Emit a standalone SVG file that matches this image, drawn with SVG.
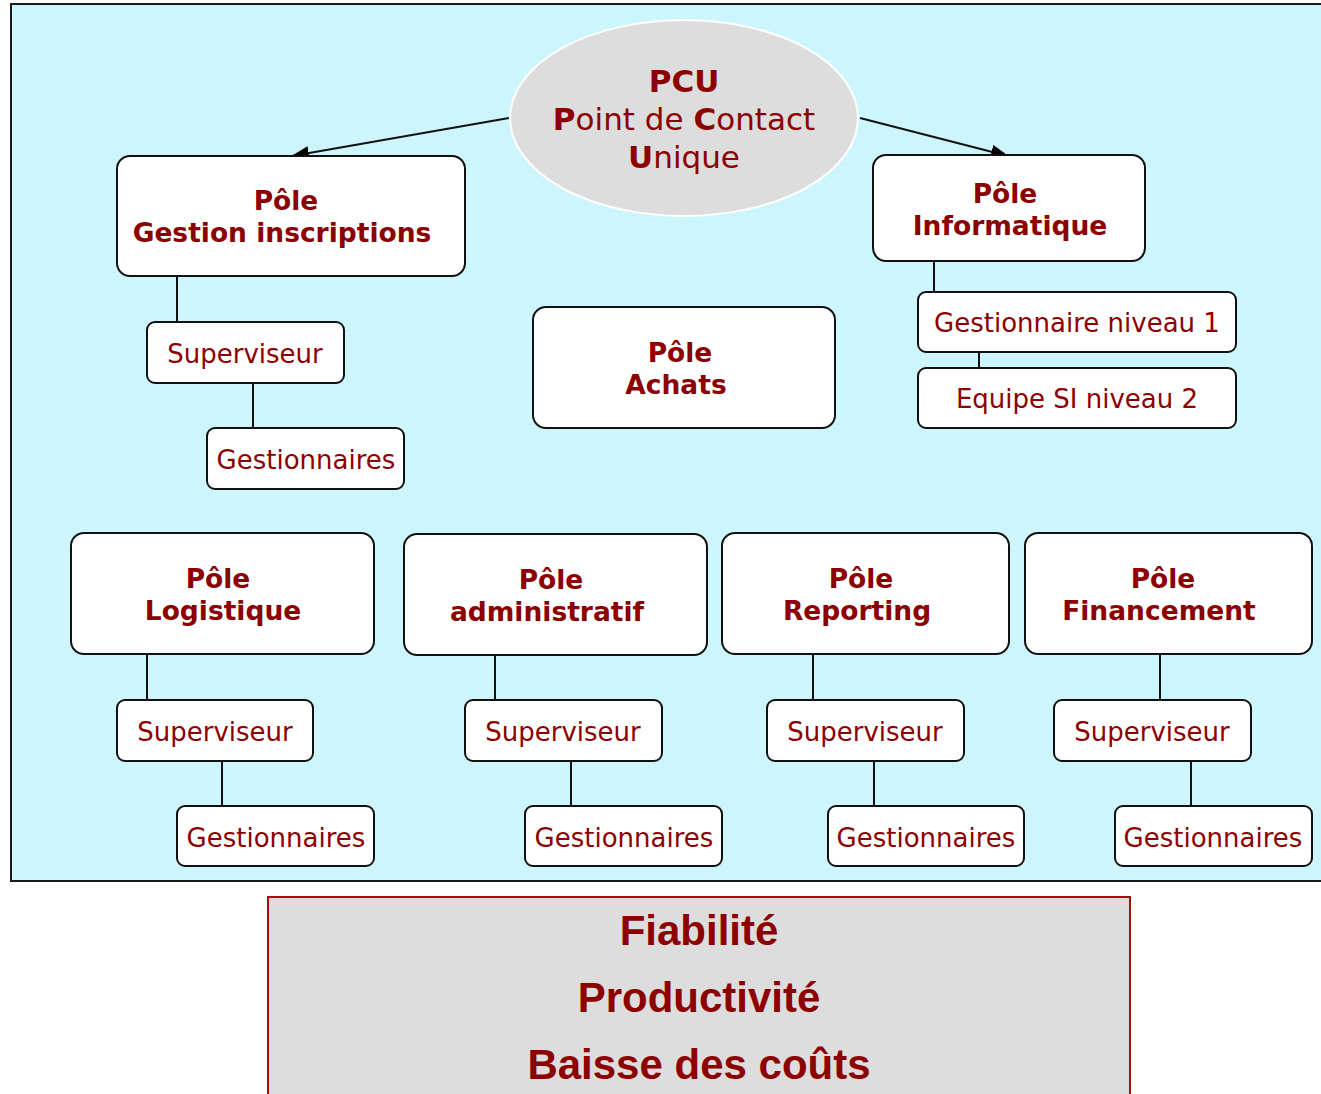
<svg xmlns="http://www.w3.org/2000/svg" width="1321" height="1094" viewBox="0 0 1321 1094">
<style>
.bg{fill:#ccf5fd;stroke:#1a1a1a;stroke-width:2}
.box{fill:#ffffff;stroke:#111;stroke-width:2}
.t{font-family:"DejaVu Sans",Verdana,sans-serif;fill:#8c0000;text-anchor:middle}
.b{font-weight:bold;font-size:26.5px}
.r{font-size:26px}
.c{stroke:#111;stroke-width:2;fill:none}
.big{font-family:"Liberation Sans",Arial,sans-serif;font-weight:bold;font-size:42px;fill:#8c0000;text-anchor:middle}
</style>
<defs>
<marker id="ah" viewBox="0 0 18 14" refX="17" refY="7" markerWidth="18" markerHeight="14" markerUnits="userSpaceOnUse" orient="auto">
<path d="M0,0 L18,7 L0,14 z" fill="#000"/>
</marker>
</defs>
<rect class="bg" x="11" y="4" width="1320" height="877"/>
<g id="connectors">
<line class="c" x1="509" y1="118" x2="292" y2="156" marker-end="url(#ah)"/>
<line class="c" x1="860" y1="118" x2="1008" y2="156" marker-end="url(#ah)"/>
<line class="c" x1="177" y1="276" x2="177" y2="322"/>
<line class="c" x1="253" y1="383" x2="253" y2="428"/>
<line class="c" x1="934" y1="261" x2="934" y2="292"/>
<line class="c" x1="979" y1="352" x2="979" y2="368"/>
<line class="c" x1="147" y1="654" x2="147" y2="700"/>
<line class="c" x1="222" y1="761" x2="222" y2="806"/>
<line class="c" x1="495" y1="655" x2="495" y2="700"/>
<line class="c" x1="571" y1="761" x2="571" y2="806"/>
<line class="c" x1="813" y1="654" x2="813" y2="700"/>
<line class="c" x1="874" y1="761" x2="874" y2="806"/>
<line class="c" x1="1160" y1="654" x2="1160" y2="700"/>
<line class="c" x1="1191" y1="761" x2="1191" y2="806"/>
</g>
<g id="pcu">
<ellipse cx="684" cy="118" rx="174" ry="98" fill="#dddddd" stroke="#ffffff" stroke-width="2"/>
<text class="t" x="684" y="92" font-size="31" font-weight="bold">PCU</text>
<text class="t" x="684" y="130" font-size="31"><tspan font-weight="bold">P</tspan>oint de <tspan font-weight="bold">C</tspan>ontact</text>
<text class="t" x="684" y="168" font-size="31"><tspan font-weight="bold">U</tspan>nique</text>
</g>
<g id="pole-gestion">
<rect class="box" x="117" y="156" width="348" height="120" rx="13"/>
<text class="t b" x="286" y="210">Pôle</text>
<text class="t b" x="282" y="242">Gestion inscriptions</text>
</g>
<g id="gi-superviseur">
<rect class="box" x="147" y="322" width="197" height="61" rx="8"/>
<text class="t r" x="245" y="363">Superviseur</text>
</g>
<g id="gi-gestionnaires">
<rect class="box" x="207" y="428" width="197" height="61" rx="8"/>
<text class="t r" x="306" y="469">Gestionnaires</text>
</g>
<g id="pole-achats">
<rect class="box" x="533" y="307" width="302" height="121" rx="13"/>
<text class="t b" x="680" y="362">Pôle</text>
<text class="t b" x="676" y="394">Achats</text>
</g>
<g id="pole-informatique">
<rect class="box" x="873" y="155" width="272" height="106" rx="13"/>
<text class="t b" x="1005" y="203">Pôle</text>
<text class="t b" x="1010" y="235">Informatique</text>
</g>
<g id="gest-niveau1">
<rect class="box" x="918" y="292" width="318" height="60" rx="8"/>
<text class="t r" x="1077" y="332">Gestionnaire niveau 1</text>
</g>
<g id="equipe-si">
<rect class="box" x="918" y="368" width="318" height="60" rx="8"/>
<text class="t r" x="1077" y="408">Equipe SI niveau 2</text>
</g>
<g id="pole-logistique">
<rect class="box" x="71" y="533" width="303" height="121" rx="13"/>
<text class="t b" x="218" y="588">Pôle</text>
<text class="t b" x="223" y="620">Logistique</text>
</g>
<g id="log-superviseur">
<rect class="box" x="117" y="700" width="196" height="61" rx="8"/>
<text class="t r" x="215" y="741">Superviseur</text>
</g>
<g id="log-gestionnaires">
<rect class="box" x="177" y="806" width="197" height="60" rx="8"/>
<text class="t r" x="276" y="847">Gestionnaires</text>
</g>
<g id="pole-administratif">
<rect class="box" x="404" y="534" width="303" height="121" rx="13"/>
<text class="t b" x="551" y="589">Pôle</text>
<text class="t b" x="547" y="621">administratif</text>
</g>
<g id="adm-superviseur">
<rect class="box" x="465" y="700" width="197" height="61" rx="8"/>
<text class="t r" x="563" y="741">Superviseur</text>
</g>
<g id="adm-gestionnaires">
<rect class="box" x="525" y="806" width="197" height="60" rx="8"/>
<text class="t r" x="624" y="847">Gestionnaires</text>
</g>
<g id="pole-reporting">
<rect class="box" x="722" y="533" width="287" height="121" rx="13"/>
<text class="t b" x="861" y="588">Pôle</text>
<text class="t b" x="857" y="620">Reporting</text>
</g>
<g id="rep-superviseur">
<rect class="box" x="767" y="700" width="197" height="61" rx="8"/>
<text class="t r" x="865" y="741">Superviseur</text>
</g>
<g id="rep-gestionnaires">
<rect class="box" x="828" y="806" width="196" height="60" rx="8"/>
<text class="t r" x="926" y="847">Gestionnaires</text>
</g>
<g id="pole-financement">
<rect class="box" x="1025" y="533" width="287" height="121" rx="13"/>
<text class="t b" x="1163" y="588">Pôle</text>
<text class="t b" x="1159" y="620">Financement</text>
</g>
<g id="fin-superviseur">
<rect class="box" x="1054" y="700" width="197" height="61" rx="8"/>
<text class="t r" x="1152" y="741">Superviseur</text>
</g>
<g id="fin-gestionnaires">
<rect class="box" x="1115" y="806" width="197" height="60" rx="8"/>
<text class="t r" x="1213" y="847">Gestionnaires</text>
</g>
<g id="benefits">
<rect x="268" y="897" width="862" height="210" fill="#dddddd" stroke="#a01010" stroke-width="2"/>
<text class="big" x="699" y="945">Fiabilité</text>
<text class="big" x="699" y="1012">Productivité</text>
<text class="big" x="699" y="1079">Baisse des coûts</text>
</g>
</svg>
